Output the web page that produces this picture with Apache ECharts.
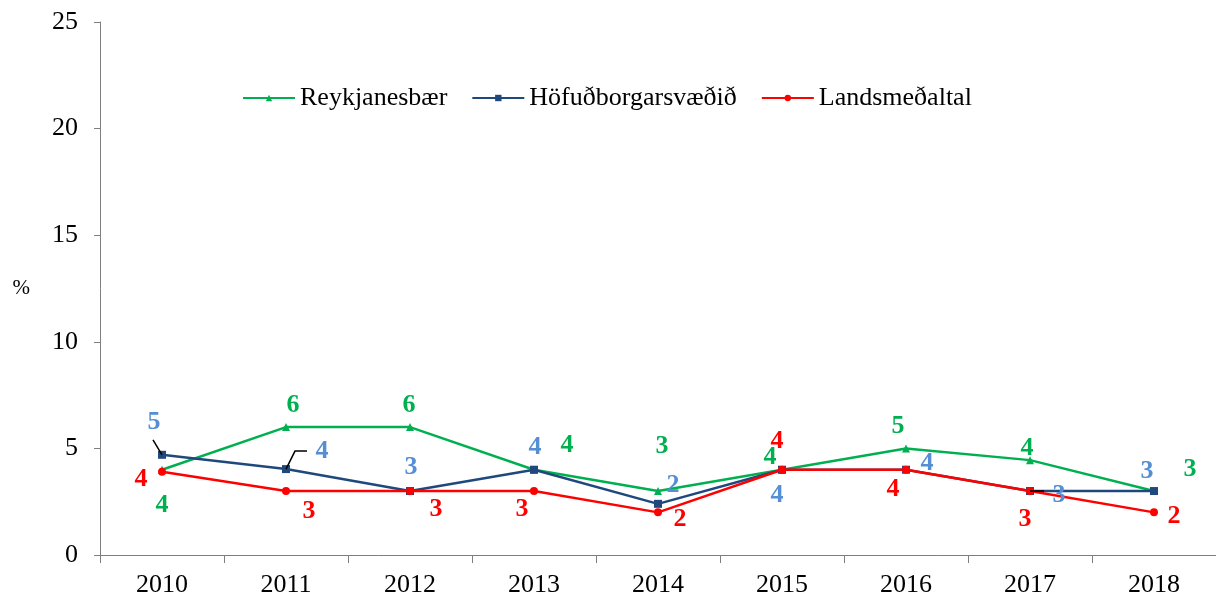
<!DOCTYPE html>
<html>
<head>
<meta charset="utf-8">
<script src="https://cdn.jsdelivr.net/npm/echarts@6/dist/echarts.min.js"></script>
<style>
  html, body { margin: 0; padding: 0; background: #fff; }
  #chart { width: 1216px; height: 598px; }
</style>
</head>
<body>
<div id="chart"></div>
<script>
const years = ["2010", "2011", "2012", "2013", "2014", "2015", "2016", "2017", "2018"];
const reykjanesbaer = [4, 6, 6, 4, 3, 4, 5, 4.45, 3];
const hofudborgarsvaedid = [4.7, 4.03, 3, 4, 2.4, 4, 4, 3, 3];
const landsmedaltal = [3.9, 3, 3, 3, 2, 4, 4, 3, 2];

// label placement, relative to the point (px)
const greenOffsets = [[0, 36], [7, -22], [-1, -22], [33, -24], [4, -45], [-12, -12], [-8, -22], [-3, -12], [36, -22]];
const blueOffsets = [[-8, -33], [36, -18], [1, -24], [1, -22], [15, -19], [-5, 26], [21, -6], [29, 4], [-7, -20]];
const redOffsets = [[-21, 7], [23, 20], [26, 18], [-12, 18], [22, 7], [-5, -28], [-13, 20], [-5, 28], [20, 4]];

const FONT = "Liberation Serif, Times New Roman, serif";

function withLabels(values, offsets, color) {
  return values.map((v, i) => ({
    value: v,
    label: { offset: offsets[i], color: color }
  }));
}

function lineSeries(name, values, offsets, lineColor, labelColor, symbol) {
  return {
    name: name,
    type: "line",
    data: withLabels(values, offsets, labelColor),
    symbol: symbol,
    symbolSize: 8,
    lineStyle: { color: lineColor, width: 2.5 },
    itemStyle: { color: lineColor },
    label: {
      show: true,
      position: "inside",
      fontFamily: FONT,
      fontSize: 26,
      fontWeight: "bold",
      formatter: (p) => String(Math.round(p.value))
    },
    emphasis: { disabled: true },
    animation: false
  };
}

const chart = echarts.init(document.getElementById("chart"));

chart.setOption({
  backgroundColor: "#fff",
  animation: false,
  grid: { left: 100, right: 0, top: 22, bottom: 42, containLabel: false },
  legend: {
    left: 237,
    top: 80,
    itemWidth: 52,
    itemHeight: 8,
    itemGap: 24,
    textStyle: { fontFamily: FONT, fontSize: 26, color: "#000" },
    data: ["Reykjanesbær", "Höfuðborgarsvæðið", "Landsmeðaltal"]
  },
  xAxis: {
    type: "category",
    data: years,
    boundaryGap: true,
    axisLine: { lineStyle: { color: "#7f7f7f", width: 1 } },
    axisTick: { show: true, length: 8, interval: 0, lineStyle: { color: "#7f7f7f" } },
    axisLabel: { fontFamily: FONT, fontSize: 26, color: "#000", margin: 17 },
    splitLine: { show: false }
  },
  yAxis: {
    type: "value",
    min: 0,
    max: 25,
    interval: 5,
    name: "%",
    nameLocation: "middle",
    nameRotate: 0,
    nameGap: 70,
    nameTextStyle: { fontFamily: FONT, fontSize: 21, color: "#000" },
    axisLine: { show: true, lineStyle: { color: "#7f7f7f", width: 1 } },
    axisTick: { show: true, length: 6, lineStyle: { color: "#7f7f7f" } },
    axisLabel: { fontFamily: FONT, fontSize: 26, color: "#000", margin: 22 },
    splitLine: { show: false }
  },
  series: [
    lineSeries("Reykjanesbær", reykjanesbaer, greenOffsets, "#00B050", "#00B050", "triangle"),
    lineSeries("Höfuðborgarsvæðið", hofudborgarsvaedid, blueOffsets, "#1F497D", "#558ED5", "rect"),
    lineSeries("Landsmeðaltal", landsmedaltal, redOffsets, "#FF0000", "#FF0000", "circle")
  ]
});

// leader lines for some labels, relative to the data point
const leaders = [
  { idx: 0, pts: [[0, 0], [-9, -15]] },
  { idx: 1, pts: [[0, 0], [9, -18], [21, -18]] },
  { idx: 7, pts: [[0, 0], [14, 0]] }
];
const graphics = leaders.map((l) => {
  const p = chart.convertToPixel({ seriesIndex: 1 }, [l.idx, hofudborgarsvaedid[l.idx]]);
  return {
    type: "polyline",
    shape: { points: l.pts.map((d) => [p[0] + d[0], p[1] + d[1]]) },
    style: { stroke: "#000", lineWidth: 1.5, fill: null },
    z: 10
  };
});
chart.setOption({ graphic: graphics });
</script>
</body>
</html>
